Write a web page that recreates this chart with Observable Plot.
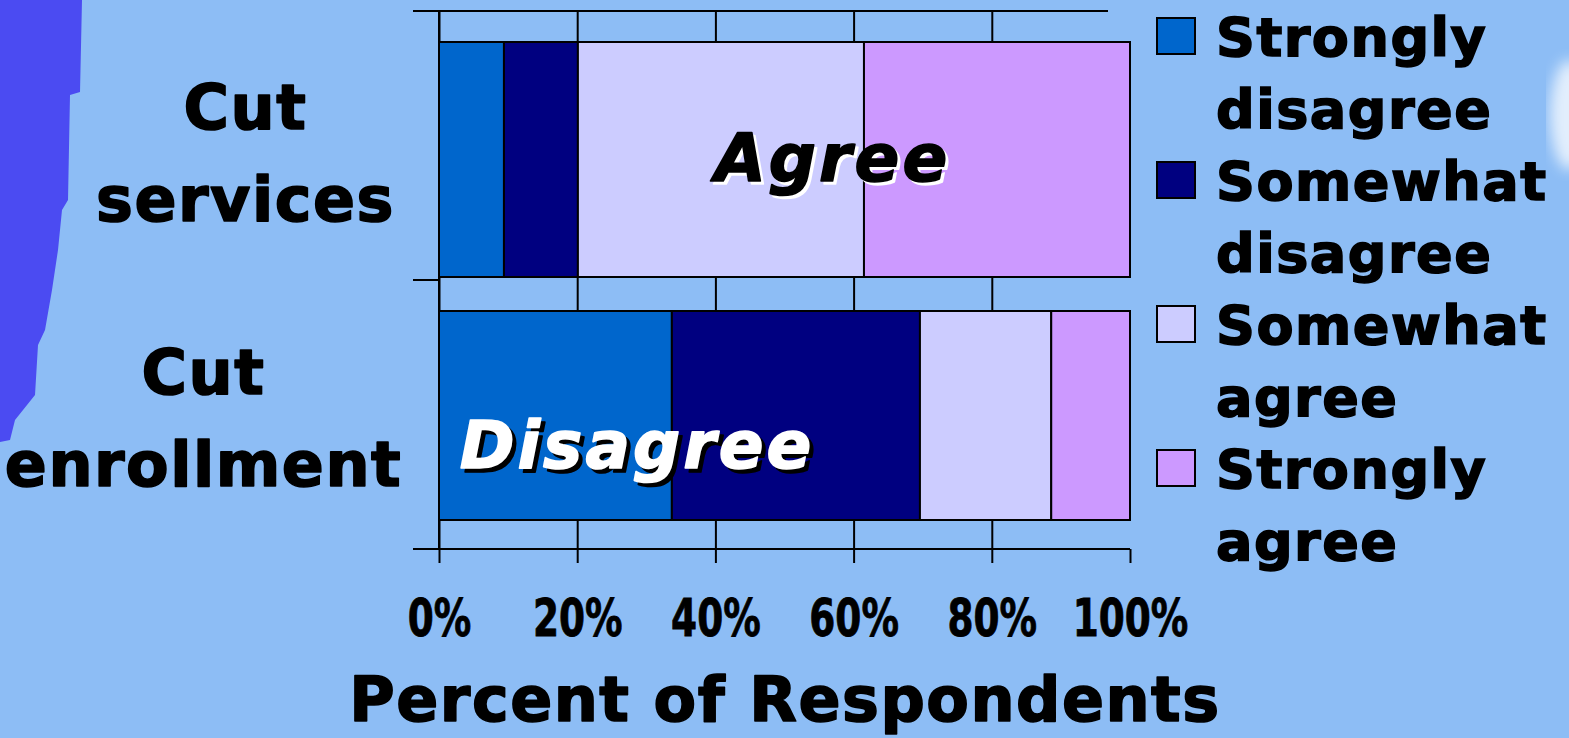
<!DOCTYPE html>
<html>
<head>
<meta charset="utf-8">
<script src="https://cdn.jsdelivr.net/npm/d3@7"></script>
<script src="https://cdn.jsdelivr.net/npm/@observablehq/plot@0.6"></script>
<style>
  html, body { margin: 0; padding: 0; background: #8dbdf5; overflow: hidden; }
  #wrap { position: relative; width: 1569px; height: 738px; }
  #deco { position: absolute; left: 0; top: 0; }
  #chart { position: absolute; left: 0; top: 0; }
  #legend { position: absolute; left: 1156px; top: 2px; font-family: "DejaVu Sans", sans-serif; font-weight: bold; font-size: 54px; letter-spacing: 1.5px; color: #000; -webkit-text-stroke: 1.6px #000; }
  .item { position: relative; height: 144px; }
  .sw { position: absolute; left: 0; top: 15px; width: 40px; height: 38px; box-sizing: border-box; border: 2px solid #000; }
  .txt { position: absolute; left: 60px; top: 0; line-height: 72px; white-space: nowrap; }
</style>
</head>
<body>
<div id="wrap">
  <svg id="deco" width="1569" height="738">
    <defs>
      <filter id="blur"><feGaussianBlur stdDeviation="7"/></filter>
    </defs>
    <polygon points="0,0 82,0 80,92 70,95 68,200 62,210 58,250 52,290 45,330 38,345 35,395 15,420 10,440 0,442" fill="#4b4bf2"/>
    <ellipse cx="1570" cy="115" rx="20" ry="55" fill="#ffffff" opacity="0.75" filter="url(#blur)"/>
  </svg>
  <div id="chart"></div>
  <div id="legend"></div>
</div>
<script>
// ---- data ----
const categories = ["Cut services", "Cut enrollment"];
const categoryLabels = ["Cut\nservices", "Cut\nenrollment"];
const responses = ["Strongly disagree", "Somewhat disagree", "Somewhat agree", "Strongly agree"];
const legendLabels = ["Strongly\ndisagree", "Somewhat\ndisagree", "Somewhat\nagree", "Strongly\nagree"];
const cutServices = [9.4, 10.7, 41.4, 38.5];
const cutEnrollment = [33.7, 35.9, 19.0, 11.4];
const colors = ["#0066cc", "#000080", "#ccccff", "#cc99ff"];
const xTicks = [0, 20, 40, 60, 80, 100];
const gridTicks = [0, 20, 40, 60, 80];
const annotationLabels = ["Agree", "Disagree"];
const axisTitle = "Percent of Respondents";

// ---- tables ----
const seriesValues = [cutServices, cutEnrollment];
const rows = categories.flatMap((c, ci) =>
  responses.map((r, ri) => ({category: c, response: r, value: seriesValues[ci][ri]})));
const agreeMid = cutServices[0] + cutServices[1] + (cutServices[2] + cutServices[3]) / 2;
const disagreeMid = (cutEnrollment[0] + cutEnrollment[1]) / 2;
const agreeNote = [{label: annotationLabels[0], x: agreeMid, category: categories[0]}];
const disagreeNote = [{label: annotationLabels[1], x: disagreeMid, category: categories[1]}];

const bold = "DejaVu Sans, sans-serif";
const narrow = "DejaVu Sans Condensed, DejaVu Sans, sans-serif";

const chart = Plot.plot({
  width: 1569,
  height: 738,
  marginLeft: 439,
  marginRight: 439,
  marginTop: 11,
  marginBottom: 189,
  style: {background: "transparent", overflow: "visible"},
  x: {domain: [0, 100], axis: null},
  y: {domain: categories, axis: null, padding: 0},
  color: {domain: responses, range: colors},
  marks: [
    Plot.ruleX(gridTicks, {stroke: "#000", strokeWidth: 2}),
    Plot.barX(rows.filter(d => d.category === categories[0]),
      Plot.stackX({x: "value", y: "category", fill: "response", stroke: "#000", strokeWidth: 2, insetTop: 31, insetBottom: 3})),
    Plot.barX(rows.filter(d => d.category === categories[1]),
      Plot.stackX({x: "value", y: "category", fill: "response", stroke: "#000", strokeWidth: 2, insetTop: 31, insetBottom: 29})),
    Plot.axisX(xTicks, {tickSize: 14, tickPadding: 36, tickFormat: d => d + "%", fontSize: 52, fontWeight: "bold",
      fontFamily: narrow, color: "#000", strokeWidth: 2}),
    Plot.text([categoryLabels[0]], {y: () => categories[0], text: d => d, frameAnchor: "left", dx: -194, dy: 0,
      textAnchor: "middle", fontSize: 62, fontWeight: "bold", fontFamily: bold, lineHeight: 1.48, fill: "#000",
      stroke: "#000", strokeWidth: 1.6}),
    Plot.text([categoryLabels[1]], {y: () => categories[1], text: d => d, frameAnchor: "left", dx: -236, dy: -4,
      textAnchor: "middle", fontSize: 62, fontWeight: "bold", fontFamily: bold, lineHeight: 1.48, fill: "#000",
      stroke: "#000", strokeWidth: 1.6}),
    Plot.text(agreeNote, {x: "x", y: "category", text: "label", dx: -22, dy: 14, fontSize: 66, fontWeight: "bold",
      fontStyle: "italic", fontFamily: bold, fill: "#000", stroke: "#000", strokeWidth: 1.6}),
    Plot.text(disagreeNote, {x: "x", y: "category", text: "label", dx: -43, dy: 32, fontSize: 66, fontWeight: "bold",
      fontStyle: "italic", fontFamily: bold, fill: "#fff", stroke: "#fff", strokeWidth: 1.6}),
    Plot.text([axisTitle], {text: d => d, frameAnchor: "bottom", dy: 171, fontSize: 62, fontWeight: "bold",
      fontFamily: bold, fill: "#000", stroke: "#000", strokeWidth: 1.6})
  ]
});

const svg = d3.select(chart);
svg.selectAll("text").style("letter-spacing", "1.5px");

// narrow tick labels: append a horizontal squeeze to each label's own transform
svg.selectAll("text").filter(function() { return /^\d+%$/.test(this.textContent); })
  .style("letter-spacing", "0px")
  .attr("stroke", "#000").attr("stroke-width", 0.8)
  .attr("transform", function() { return (this.getAttribute("transform") || "") + " scale(0.8,1)"; });

// annotation shadows
svg.selectAll("text").filter(function() { return this.textContent === annotationLabels[0]; })
  .style("letter-spacing", "3px").style("filter", "drop-shadow(3px 3px 0 #ffffff)");
svg.selectAll("text").filter(function() { return this.textContent === annotationLabels[1]; })
  .style("letter-spacing", "3px").style("filter", "drop-shadow(4px 4px 0 #000000)");

// axis frame lines from the plot's scales
const sx = chart.scale("x"), sy = chart.scale("y");
const x0 = sx.apply(0), x100 = sx.apply(100);
const [yTop, yBottom] = sy.range;
const ySep = yTop + sy.bandwidth;
const g = svg.append("g").attr("stroke", "#000").attr("stroke-width", 2);
g.append("line").attr("x1", x0 - 26).attr("x2", x100 - 22).attr("y1", yTop).attr("y2", yTop);
g.append("line").attr("x1", x0 - 26).attr("x2", x100).attr("y1", yBottom).attr("y2", yBottom);
g.append("line").attr("x1", x0 - 26).attr("x2", x0).attr("y1", ySep).attr("y2", ySep);
g.append("line").attr("x1", x0).attr("x2", x0).attr("y1", yTop).attr("y2", yBottom);

document.getElementById("chart").appendChild(chart);

// legend
const legend = d3.select("#legend");
responses.forEach((r, i) => {
  const item = legend.append("div").attr("class", "item");
  item.append("div").attr("class", "sw").style("background", colors[i]);
  item.append("div").attr("class", "txt").html(legendLabels[i].split("\n").join("<br>"));
});
</script>
</body>
</html>
